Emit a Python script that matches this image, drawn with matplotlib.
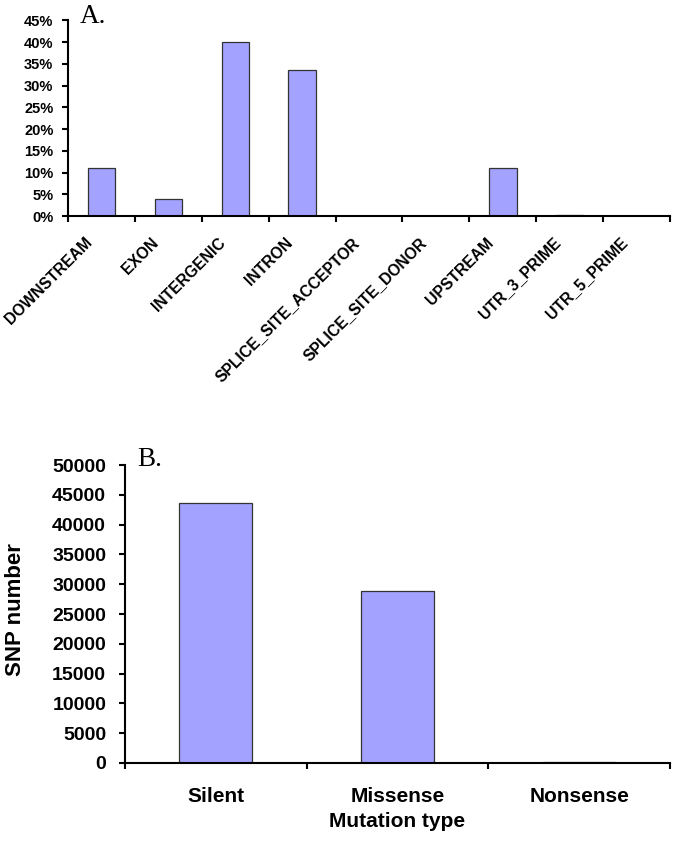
import numpy as np
import matplotlib.pyplot as plt
from matplotlib.ticker import PercentFormatter

# Panel A: SNP location categories (percent of SNPs)
regions = ["DOWNSTREAM", "EXON", "INTERGENIC", "INTRON", "SPLICE_SITE_ACCEPTOR",
           "SPLICE_SITE_DONOR", "UPSTREAM", "UTR_3_PRIME", "UTR_5_PRIME"]
region_pct = [11.1, 3.9, 40.1, 33.5, 0.0, 0.0, 11.1, 0.3, 0.0]

# Panel B: coding SNP counts by mutation type
mut_types = ["Silent", "Missense", "Nonsense"]
snp_counts = [43600, 28900, 200]

bar_color = "#a3a3ff"
edge_color = "#333333"
sans = "Liberation Sans"
serif = "Liberation Serif"

fig = plt.figure(figsize=(6.75, 8.44), dpi=100)


def style_axes(ax, n):
    for s in ["top", "right"]:
        ax.spines[s].set_visible(False)
    for s in ["left", "bottom"]:
        ax.spines[s].set_linewidth(1.5)
    ax.set_xlim(-0.5, n - 0.5)
    # ticks at category boundaries, labels go on minor ticks
    ax.set_xticks(np.arange(n + 1) - 0.5)
    ax.set_xticklabels([])
    ax.tick_params(axis="x", which="major", direction="out", length=4.5, width=1.5)
    ax.tick_params(axis="x", which="minor", length=0)


# ---- A ----
axA = fig.add_axes([0.1007, 0.744, 0.892, 0.232])
x = np.arange(len(regions))
axA.bar(x, region_pct, width=0.41, color=bar_color, edgecolor=edge_color, linewidth=0.9)
style_axes(axA, len(regions))
axA.set_ylim(0, 45)
axA.set_yticks(np.arange(0, 46, 5))
axA.yaxis.set_major_formatter(PercentFormatter(decimals=0))
axA.tick_params(axis="y", direction="out", length=4.5, width=1.5, pad=6)
# rotated labels end just left of each category centre
axA.set_xticks(x - 0.18, minor=True)
axA.set_xticklabels(regions, minor=True, rotation=45, ha="right", va="center",
                    rotation_mode="anchor", fontsize=11.3, fontweight="bold", family=sans)
axA.tick_params(axis="x", which="minor", pad=17.5)
for lab in axA.get_yticklabels():
    lab.set_fontsize(10.5)
    lab.set_fontweight("bold")
    lab.set_family(sans)
fig.text(80 / 675, 1 - 23 / 844, "A.", fontsize=19.5, family=serif, va="baseline")

# ---- B ----
axB = fig.add_axes([0.185, 0.096, 0.8076, 0.353])
xb = np.arange(len(mut_types))
axB.bar(xb, snp_counts, width=0.40, color=bar_color, edgecolor=edge_color, linewidth=0.9)
style_axes(axB, len(mut_types))
axB.set_ylim(0, 50000)
axB.set_yticks(np.arange(0, 50001, 5000))
axB.tick_params(axis="y", direction="out", length=4.5, width=1.5, pad=9)
axB.set_xticks(xb, minor=True)
axB.set_xticklabels(mut_types, minor=True, fontsize=15, fontweight="bold", family=sans)
axB.tick_params(axis="x", which="minor", pad=17.5)
for lab in axB.get_yticklabels():
    lab.set_fontsize(14)
    lab.set_fontweight("bold")
    lab.set_family(sans)
fig.text(397 / 675, 1 - 827 / 844, "Mutation type", fontsize=15, fontweight="bold",
         family=sans, ha="center", va="baseline")
fig.text(16 / 675, 1 - 610 / 844, "SNP number", fontsize=16, fontweight="bold",
         family=sans, ha="center", va="center", rotation=90)
fig.text(137 / 675, 1 - 466 / 844, "B.", fontsize=19.5, family=serif, va="baseline")

fig.savefig("out.png", dpi=100)
